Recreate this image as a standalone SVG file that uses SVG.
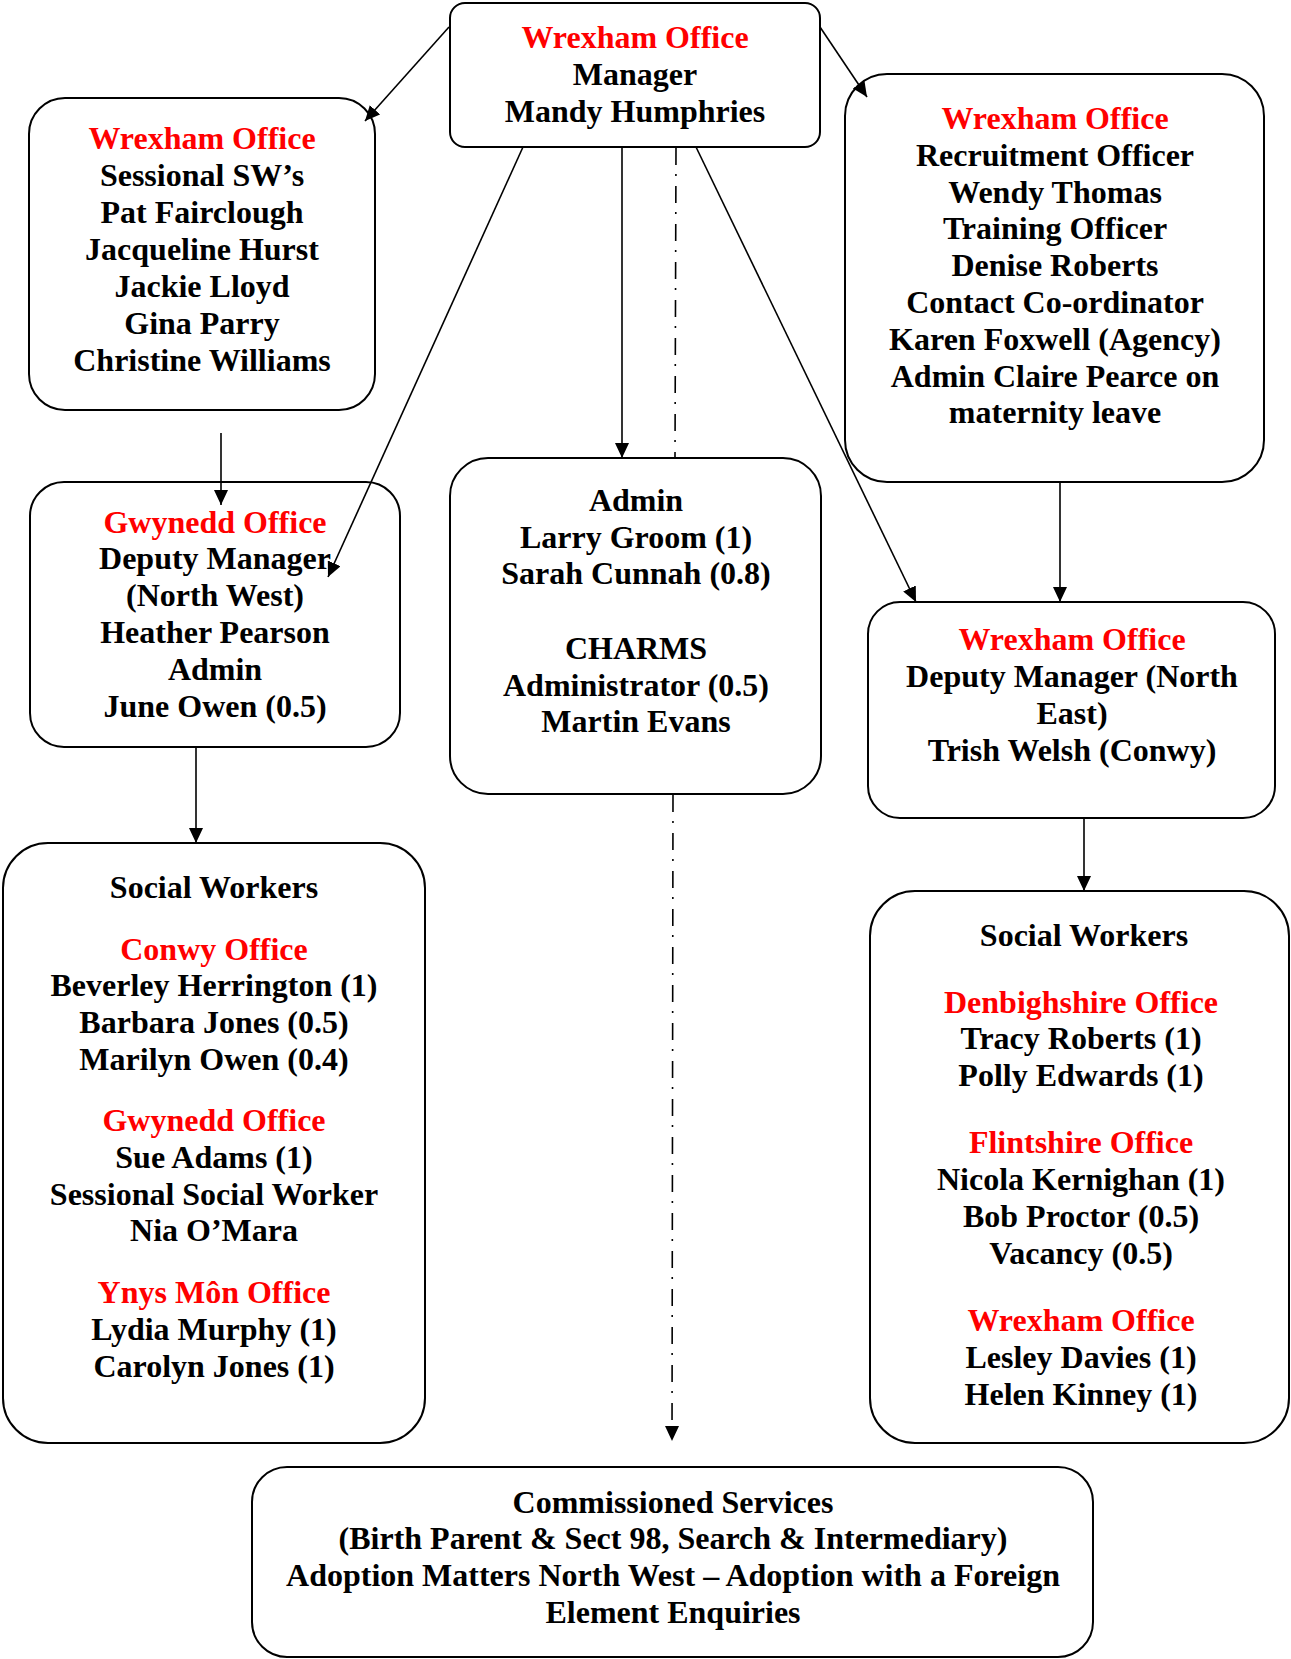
<svg xmlns="http://www.w3.org/2000/svg" width="1291" height="1659" viewBox="0 0 1291 1659">
<style>
.box{fill:#fff;stroke:#000;stroke-width:2}
text{font-family:"Liberation Serif","Times New Roman",serif;font-weight:bold;font-size:32px;fill:#000;text-anchor:middle}
text .r{fill:#ff0000}
.ln{fill:none;stroke:#000;stroke-width:1.6}
.dd{fill:none;stroke:#000;stroke-width:1.6;stroke-dasharray:17 9 2 10}
</style>
<defs>
<marker id="ah" markerUnits="userSpaceOnUse" markerWidth="16" markerHeight="14" refX="15" refY="7" orient="auto">
<path d="M0,0 L15,7 L0,14 z" fill="#000"/>
</marker>
</defs>
<rect width="1291" height="1659" fill="#fff"/>
<g id="manager">
<rect class="box" x="450" y="3" width="370" height="144" rx="15"/>
<text><tspan class="r" x="635" y="48">Wrexham Office</tspan><tspan x="635" y="85">Manager</tspan><tspan x="635" y="122">Mandy Humphries</tspan></text>
</g>
<g id="sessional">
<rect class="box" x="29" y="98" width="346" height="312" rx="36"/>
<text><tspan class="r" x="202" y="149">Wrexham Office</tspan><tspan x="202" y="186">Sessional SW’s</tspan><tspan x="202" y="223">Pat Fairclough</tspan><tspan x="202" y="260">Jacqueline Hurst</tspan><tspan x="202" y="297">Jackie Lloyd</tspan><tspan x="202" y="334">Gina Parry</tspan><tspan x="202" y="371">Christine Williams</tspan></text>
</g>
<g id="recruitment">
<rect class="box" x="845" y="74" width="419" height="408" rx="42"/>
<text><tspan class="r" x="1055" y="129">Wrexham Office</tspan><tspan x="1055" y="166">Recruitment Officer</tspan><tspan x="1055" y="203">Wendy Thomas</tspan><tspan x="1055" y="239">Training Officer</tspan><tspan x="1055" y="276">Denise Roberts</tspan><tspan x="1055" y="313">Contact Co-ordinator</tspan><tspan x="1055" y="350">Karen Foxwell (Agency)</tspan><tspan x="1055" y="387">Admin Claire Pearce on</tspan><tspan x="1055" y="423">maternity leave</tspan></text>
</g>
<g id="gwynedd">
<rect class="box" x="30" y="482" width="370" height="265" rx="34"/>
<text><tspan class="r" x="215" y="533">Gwynedd Office</tspan><tspan x="215" y="569">Deputy Manager</tspan><tspan x="215" y="606">(North West)</tspan><tspan x="215" y="643">Heather Pearson</tspan><tspan x="215" y="680">Admin</tspan><tspan x="215" y="717">June Owen (0.5)</tspan></text>
</g>
<g id="admin">
<rect class="box" x="450" y="458" width="371" height="336" rx="38"/>
<text><tspan x="636" y="511">Admin</tspan><tspan x="636" y="548">Larry Groom (1)</tspan><tspan x="636" y="584">Sarah Cunnah (0.8)</tspan><tspan x="636" y="659">CHARMS</tspan><tspan x="636" y="696">Administrator (0.5)</tspan><tspan x="636" y="732">Martin Evans</tspan></text>
</g>
<g id="deputy-ne">
<rect class="box" x="868" y="602" width="407" height="216" rx="32"/>
<text><tspan class="r" x="1072" y="650">Wrexham Office</tspan><tspan x="1072" y="687">Deputy Manager (North</tspan><tspan x="1072" y="724">East)</tspan><tspan x="1072" y="761">Trish Welsh (Conwy)</tspan></text>
</g>
<g id="social-west">
<rect class="box" x="3" y="843" width="422" height="600" rx="45"/>
<text><tspan x="214" y="898">Social Workers</tspan><tspan class="r" x="214" y="960">Conwy Office</tspan><tspan x="214" y="996">Beverley Herrington (1)</tspan><tspan x="214" y="1033">Barbara Jones (0.5)</tspan><tspan x="214" y="1070">Marilyn Owen (0.4)</tspan><tspan class="r" x="214" y="1131">Gwynedd Office</tspan><tspan x="214" y="1168">Sue Adams (1)</tspan><tspan x="214" y="1205">Sessional Social Worker</tspan><tspan x="214" y="1241">Nia O’Mara</tspan><tspan class="r" x="214" y="1303">Ynys Môn Office</tspan><tspan x="214" y="1340">Lydia Murphy (1)</tspan><tspan x="214" y="1377">Carolyn Jones (1)</tspan></text>
</g>
<g id="social-east">
<rect class="box" x="870" y="891" width="419" height="552" rx="45"/>
<text><tspan x="1084" y="946">Social Workers</tspan><tspan class="r" x="1081" y="1013">Denbighshire Office</tspan><tspan x="1081" y="1049">Tracy Roberts (1)</tspan><tspan x="1081" y="1086">Polly Edwards (1)</tspan><tspan class="r" x="1081" y="1153">Flintshire Office</tspan><tspan x="1081" y="1190">Nicola Kernighan (1)</tspan><tspan x="1081" y="1227">Bob Proctor (0.5)</tspan><tspan x="1081" y="1264">Vacancy (0.5)</tspan><tspan class="r" x="1081" y="1331">Wrexham Office</tspan><tspan x="1081" y="1368">Lesley Davies (1)</tspan><tspan x="1081" y="1405">Helen Kinney (1)</tspan></text>
</g>
<g id="commissioned">
<rect class="box" x="252" y="1467" width="841" height="190" rx="35"/>
<text><tspan x="673" y="1513">Commissioned Services</tspan><tspan x="673" y="1549">(Birth Parent &amp; Sect 98, Search &amp; Intermediary)</tspan><tspan x="673" y="1586">Adoption Matters North West – Adoption with a Foreign</tspan><tspan x="673" y="1623">Element Enquiries</tspan></text>
</g>
<g id="connectors">
<line class="ln" x1="449" y1="27" x2="365" y2="121" marker-end="url(#ah)"/>
<line class="ln" x1="820" y1="27" x2="867" y2="97" marker-end="url(#ah)"/>
<line class="ln" x1="622" y1="147" x2="622" y2="458" marker-end="url(#ah)"/>
<line class="ln" x1="523" y1="147" x2="328" y2="577" marker-end="url(#ah)"/>
<line class="ln" x1="696" y1="147" x2="916" y2="602" marker-end="url(#ah)"/>
<line class="dd" x1="676" y1="148" x2="675" y2="458"/>
<line class="dd" x1="673" y1="795" x2="672" y2="1441" marker-end="url(#ah)"/>
<line class="ln" x1="221" y1="433" x2="221" y2="505" marker-end="url(#ah)"/>
<line class="ln" x1="196" y1="747" x2="196" y2="843" marker-end="url(#ah)"/>
<line class="ln" x1="1060" y1="482" x2="1060" y2="602" marker-end="url(#ah)"/>
<line class="ln" x1="1084" y1="818" x2="1084" y2="891" marker-end="url(#ah)"/>
</g>
</svg>
